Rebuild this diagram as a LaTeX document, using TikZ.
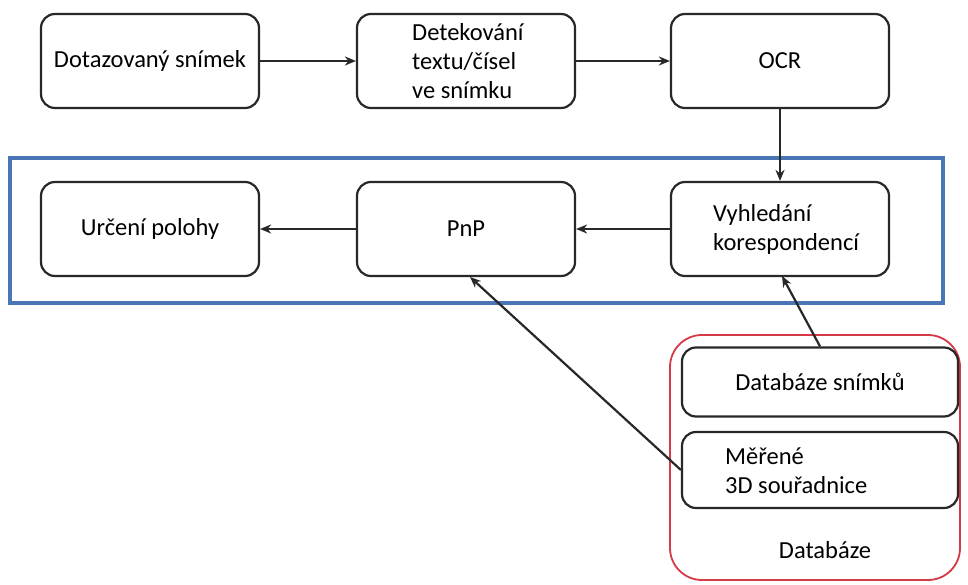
\documentclass[tikz,border=0pt]{standalone}
\usepackage{fontspec}
\setmainfont{Carlito}
\usetikzlibrary{arrows.meta}
\definecolor{frameblue}{RGB}{74,118,182}
\definecolor{dbred}{RGB}{214,58,70}
\definecolor{boxline}{RGB}{40,40,40}
\tikzset{
  stepbox/.style={draw=boxline, line width=2.2pt, rounded corners=14pt, minimum width=218pt, minimum height=94pt, inner sep=0pt, font=\fontsize{24.5}{29}\selectfont, align=center},
  flow/.style={draw=boxline, line width=2.2pt, -{Stealth[length=11pt,width=9pt]}},
  lbl/.style={font=\fontsize{24.5}{29}\selectfont, align=left, inner sep=0pt}
}
\begin{document}
\begin{tikzpicture}[x=1pt,y=-1pt]
\useasboundingbox (0,0) rectangle (968,585);
\fill[white] (0,0) rectangle (968,585);

% processing group frame
\draw[frameblue, line width=4pt] (10,158) rectangle (943,303);

% database container
\draw[dbred, line width=1.8pt, rounded corners=32pt] (670,335) rectangle (960,580);
\node[lbl] (dbtitle) at (825,550) {Databáze};

% top row
\node[stepbox] (query) at (150,61) {Dotazovaný snímek};
\node[stepbox] (detect) at (466,61) {};
\node[lbl, anchor=west] (detecttxt) at (412,61) {Detekování\\textu/čísel\\ve snímku};
\node[stepbox] (ocr) at (780,61) {OCR};

% middle row
\node[stepbox] (pose) at (150,229) {Určení polohy};
\node[stepbox] (pnp) at (466,229) {PnP};
\node[stepbox] (match) at (780,229) {};
\node[lbl, anchor=west] (matchtxt) at (713,229) {Vyhledání\\korespondencí};

% database entries
\node[stepbox, minimum width=276pt, minimum height=69pt] (images) at (820,382) {Databáze snímků};
\node[stepbox, minimum width=276pt, minimum height=76pt] (coords) at (820,470) {};
\node[lbl, anchor=west] (coordstxt) at (725,471) {Měřené\\3D souřadnice};

% connectors
\draw[flow] (query) -- (detect);
\draw[flow] (detect) -- (ocr);
\draw[flow] (ocr) -- (match);
\draw[flow] (match) -- (pnp);
\draw[flow] (pnp) -- (pose);
\draw[flow] (images.north) -- (782,276);
\draw[flow] (coords.west) -- (470,277);
\end{tikzpicture}
\end{document}
